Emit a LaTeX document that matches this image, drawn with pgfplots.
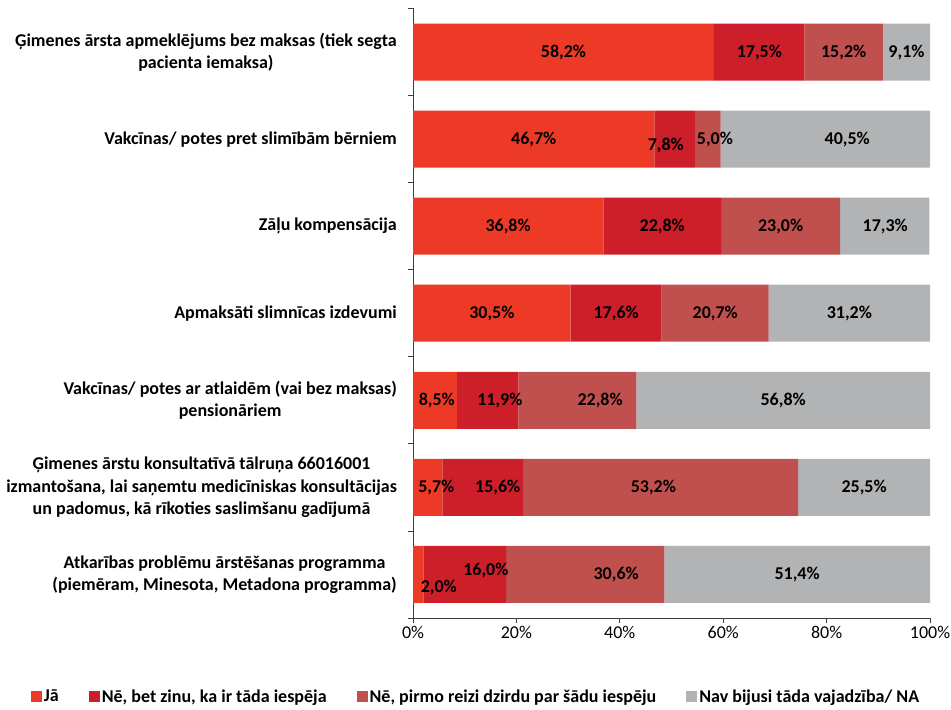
\documentclass[border=0pt]{standalone}
\usepackage{fontspec}
\setmainfont{Carlito}
\usepackage{pgfplots}
\usepackage{pgfplotstable}
\pgfplotsset{compat=1.18}
\definecolor{cJa}{RGB}{237,58,38}
\definecolor{cNe}{RGB}{204,31,41}
\definecolor{cPirmo}{RGB}{192,80,77}
\definecolor{cNav}{RGB}{177,179,181}
\definecolor{axgray}{RGB}{60,60,60}

\pgfplotstableread{
y ja ne pirmo nav
6 58.2 17.5 15.2 9.1
5 46.7 7.8 5.0 40.5
4 36.8 22.8 23.0 17.3
3 30.5 17.6 20.7 31.2
2 8.5 11.9 22.8 56.8
1 5.7 15.6 53.2 25.5
0 2.0 16.0 30.6 51.4
}\bars

\pgfplotstableread{
x y v
29.1 6 58.2
67.0 6 17.5
83.3 6 15.2
95.45 6 9.1
23.35 5 46.7
48.9 4.93 7.8
58.4 5 5.0
84.0 5 40.5
18.4 4 36.8
48.2 4 22.8
71.1 4 23.0
91.35 4 17.3
15.25 3 30.5
39.3 3 17.6
58.45 3 20.7
84.4 3 31.2
4.6 2 8.5
16.8 2 11.9
36.2 2 22.8
71.6 2 56.8
4.5 1 5.7
16.4 1 15.6
46.5 1 53.2
87.25 1 25.5
5.0 -0.15 2.0
14.1 0.05 16.0
39.3 0 30.6
74.3 0 51.4
}\labels

\pgfplotsset{base/.style={at={(413bp,92bp)}, anchor=south west, scale only axis,
  width=517bp, height=609.5bp, xmin=0, xmax=100, ymin=-0.5, ymax=6.5}}

\begin{document}
\begin{tikzpicture}
\useasboundingbox (0,0) rectangle (951bp,710bp);
\begin{axis}[base,
  xbar stacked, bar width=57bp,
  axis x line*=bottom, axis y line*=left,
  axis line style={draw=axgray, line width=0.8bp},
  every tick/.style={draw=axgray, line width=0.8bp},
  tick align=outside, major tick length=5bp,
  xtick={0,20,...,100}, xticklabels={0\%,20\%,40\%,60\%,80\%,100\%},
  xticklabel style={font=\fontsize{18bp}{22bp}\selectfont},
  ytick={-0.5,0.5,...,6.5}, yticklabels={},
  extra y ticks={0,1,2,3,4,5,6},
  extra y tick labels={
    {Atkarības problēmu ārstēšanas programma\\(piemēram, Minesota, Metadona programma)},
    {Ģimenes ārstu konsultatīvā tālruņa 66016001\\izmantošana, lai saņemtu medicīniskas konsultācijas\\un padomus, kā rīkoties saslimšanu gadījumā},
    {Vakcīnas/ potes ar atlaidēm (vai bez maksas)\\pensionāriem},
    {Apmaksāti slimnīcas izdevumi},
    {Zāļu kompensācija},
    {Vakcīnas/ potes pret slimībām bērniem},
    {Ģimenes ārsta apmeklējums bez maksas (tiek segta\\pacienta iemaksa)}},
  extra y tick style={major tick length=0pt},
  yticklabel style={font=\bfseries\fontsize{18bp}{22.5bp}\selectfont, align=center, anchor=east, inner xsep=0pt, xshift=-16bp},
  legend style={at={(0.1219,-0.129)}, anchor=center, draw=none, fill=none,
    legend columns=4, font=\bfseries\fontsize{18bp}{22bp}\selectfont,
    /tikz/every even column/.append style={column sep=28bp},
    /tikz/every odd column/.append style={column sep=0bp},
    legend cell align=left, inner sep=0pt},
]
\addplot[fill=cJa, draw=none, legend image code/.code={\fill[cJa] (0bp,-5.5bp) rectangle (11bp,5.5bp);}] table[x=ja, y=y]{\bars};
\addlegendentry{Jā}
\addplot[fill=cNe, draw=none, legend image code/.code={\fill[cNe] (0bp,-5.5bp) rectangle (11bp,5.5bp);}] table[x=ne, y=y]{\bars};
\addlegendentry{Nē, bet zinu, ka ir tāda iespēja}
\addplot[fill=cPirmo, draw=none, legend image code/.code={\fill[cPirmo] (0bp,-5.5bp) rectangle (11bp,5.5bp);}] table[x=pirmo, y=y]{\bars};
\addlegendentry{Nē, pirmo reizi dzirdu par šādu iespēju}
\addplot[fill=cNav, draw=none, legend image code/.code={\fill[cNav] (0bp,-5.5bp) rectangle (11bp,5.5bp);}] table[x=nav, y=y]{\bars};
\addlegendentry{Nav bijusi tāda vajadzība/ NA}
\end{axis}
\begin{axis}[base, hide axis,
  point meta=explicit,
  nodes near coords={\pgfmathprintnumber[fixed,fixed zerofill,precision=1,use comma,assume math mode=true]{\pgfplotspointmeta}\%},
  nodes near coords align=center,
  every node near coord/.append style={font=\bfseries\fontsize{18bp}{22bp}\selectfont, text=black, anchor=center, inner sep=0pt},
]
\addplot[draw=none, mark=none] table[x=x, y=y, meta=v]{\labels};
\end{axis}
\end{tikzpicture}
\end{document}
